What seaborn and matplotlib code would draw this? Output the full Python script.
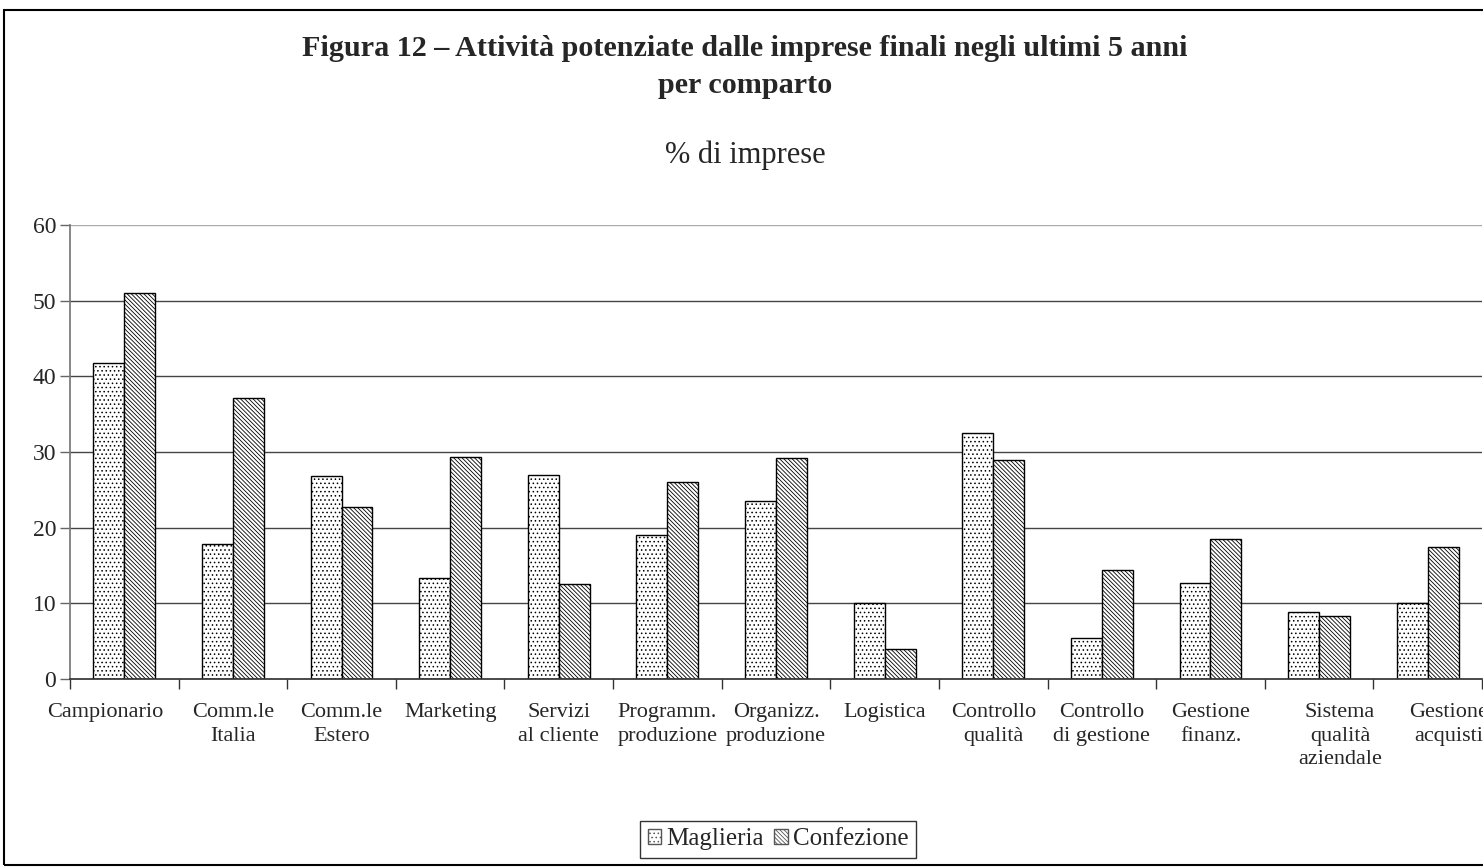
import numpy as np
import pandas as pd
import matplotlib.pyplot as plt
import matplotlib.patches as mpatches
import matplotlib.transforms as mtransforms
import seaborn as sns

# values (% di imprese)
categorie = ["Campionario", "Comm.le\nItalia", "Comm.le\nEstero", "Marketing",
             "Servizi\nal cliente", "Programm.\nproduzione", "Organizz.\nproduzione",
             "Logistica", "Controllo\nqualità", "Controllo\ndi gestione",
             "Gestione\nfinanz.", "Sistema\nqualità\naziendale", "Gestione\nacquisti"]
maglieria = [41.8, 17.9, 26.8, 13.3, 26.9, 19.0, 23.5, 10.0, 32.5, 5.4, 12.7, 8.8, 10.0]
confezione = [51.0, 37.1, 22.7, 29.4, 12.5, 26.1, 29.2, 4.0, 29.0, 14.4, 18.5, 8.3, 17.5]
serie = ["Maglieria", "Confezione"]
y_ticks = [0, 10, 20, 30, 40, 50, 60]

df = pd.DataFrame({
    'categoria': categorie * 2,
    'valore': maglieria + confezione,
    'serie': [serie[0]] * len(categorie) + [serie[1]] * len(categorie),
})

sns.set_theme(style='white')
plt.rcParams['font.family'] = ['Liberation Serif', 'DejaVu Serif']
plt.rcParams['hatch.linewidth'] = 0.6

W, H = 1483, 867
fig = plt.figure(figsize=(W / 100, H / 100), dpi=100)
ax = fig.add_axes([70 / W, (H - 679) / H, (1482 - 70) / W, (679 - 225) / H])

sns.barplot(data=df, x='categoria', y='valore', hue='serie', order=categorie,
            palette={'Maglieria': 'white', 'Confezione': 'white'},
            width=0.57, edgecolor='black', linewidth=1.0, saturation=1,
            ax=ax, legend=False)

hatches = ['....', '\\\\\\\\\\\\\\\\']
for cont, h in zip(ax.containers, hatches):
    for bar in cont:
        bar.set_hatch(h)
        bar.set_edgecolor('black')

ax.set_xlim(-0.5, len(categorie) - 0.5)
ax.set_ylim(0, 60)
ax.set_yticks(y_ticks)
ax.set_yticklabels([str(v) for v in y_ticks], fontsize=17)
for v in y_ticks[1:]:
    ax.axhline(v, color='#444444' if v < 60 else '#aaaaaa', lw=1, zorder=0)

ax.set_xticks(range(len(categorie)))
ax.set_xticklabels(categorie, fontsize=16, linespacing=1.35)
ax.set_xticks(np.arange(-0.5, len(categorie), 1), minor=True)
ax.tick_params(axis='x', which='major', length=0, pad=17)
ax.tick_params(axis='x', which='minor', length=7, width=1, color='#333333', direction='out', bottom=True)
ax.tick_params(axis='y', length=7, width=1, color='#666666', direction='out', left=True, pad=3)
ax.set_xlabel('')
ax.set_ylabel('')

# Excel nudged a few wrapped labels sideways; mimic that
shift_px = {0: -19, 11: 21, 12: 21}
for i, lab in enumerate(ax.get_xticklabels()):
    if i in shift_px:
        lab.set_transform(lab.get_transform() +
                          mtransforms.ScaledTranslation(shift_px[i] / 100, 0, fig.dpi_scale_trans))

for s in ['top', 'right']:
    ax.spines[s].set_visible(False)
ax.spines['left'].set_color('#777777')
ax.spines['bottom'].set_color('#333333')

fig.text(745 / W, 1 - 67 / H,
         "Figura 12 – Attività potenziate dalle imprese finali negli ultimi 5 anni\nper comparto",
         ha='center', va='center', fontsize=21.7, fontweight='bold', linespacing=1.5)
fig.text(745 / W, 1 - 155 / H, "% di imprese", ha='center', va='center', fontsize=22)

handles = [mpatches.Patch(facecolor='white', edgecolor='#555555', hatch=h, label=s)
           for s, h in zip(serie, hatches)]
leg = fig.legend(handles=handles, loc='center', bbox_to_anchor=(778 / W, 1 - 839 / H),
                 ncol=2, fontsize=18, frameon=True, fancybox=False, edgecolor='black',
                 handlelength=0.55, handleheight=0.55, handletextpad=0.2, columnspacing=0.4,
                 borderpad=0.3)
leg.get_frame().set_linewidth(1)

# chart frame (runs off the right edge like the reference)
fig.patches.append(mpatches.Rectangle((4 / W, 2 / H), 1.2, (865 - 10) / H,
                                      transform=fig.transFigure, fill=False,
                                      edgecolor='black', lw=1.5))

fig.savefig('out.png', dpi=100)
